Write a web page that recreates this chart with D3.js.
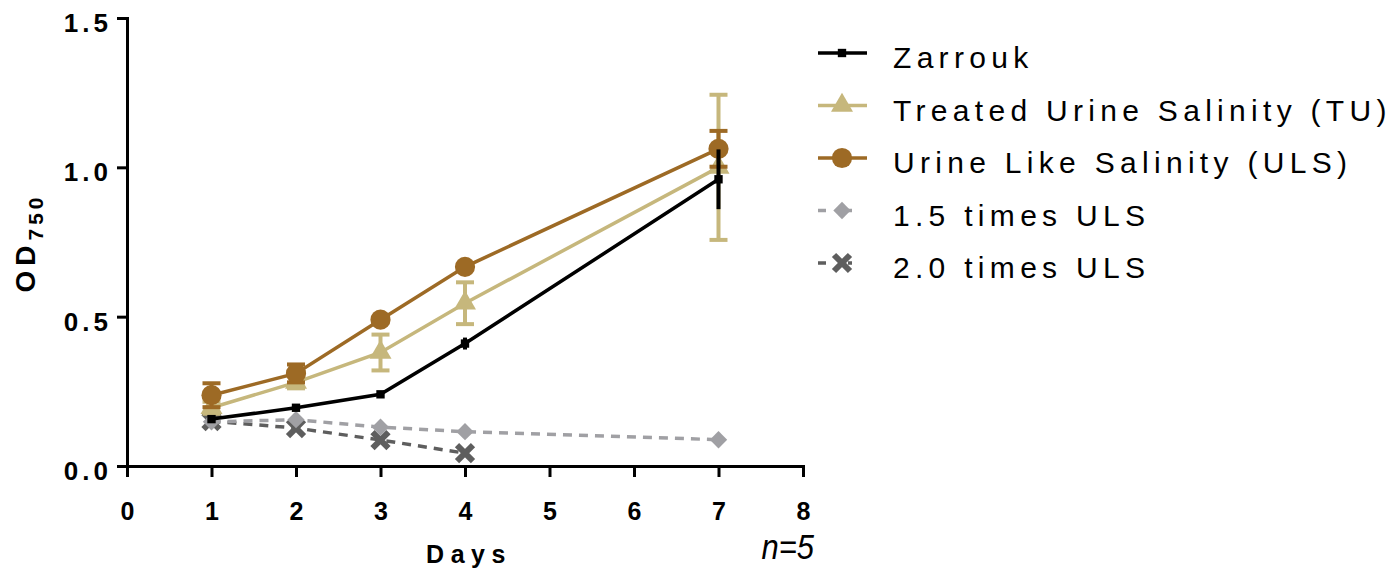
<!DOCTYPE html>
<html>
<head>
<meta charset="utf-8">
<script src="https://cdn.jsdelivr.net/npm/d3@7"></script>
<style>
  body { margin: 0; background: #fff; }
  svg { font-family: "Liberation Sans", Arial, sans-serif; }
</style>
</head>
<body>
<div id="chart"></div>
<script>
// Data
const days = [1, 2, 3, 4, 7];
const zarrouk = [0.157, 0.195, 0.24, 0.41, 0.96];
const zarroukErr = [0.01, 0.01, 0.01, 0.02, 0.1];
const treated = [0.195, 0.28, 0.38, 0.545, 1.0];
const treatedErr = [0.02, 0.02, 0.06, 0.07, 0.243];
const uls = [0.237, 0.31, 0.49, 0.667, 1.062];
const ulsErr = [0.04, 0.03, 0.01, 0.01, 0.06];
const uls15 = [0.148, 0.155, 0.13, 0.115, 0.088];
const uls20 = [0.15, 0.127, 0.087, 0.043];
const xTicks = [0, 1, 2, 3, 4, 5, 6, 7, 8];
const yTicks = [0.0, 0.5, 1.0, 1.5];

const W = 1396, H = 580;
const svg = d3.select("#chart").append("svg")
    .attr("width", W)
    .attr("height", H);

const x = d3.scaleLinear().domain([0, 8]).range([127, 803]);
const y = d3.scaleLinear().domain([0, 1.5]).range([466, 18]);

// Axes
const xAxis = svg.append("g")
    .attr("transform", `translate(0, ${y(0)})`)
    .call(d3.axisBottom(x).tickValues(xTicks).tickSize(11).tickPadding(25).tickFormat(d3.format("d")));
const yAxis = svg.append("g")
    .attr("transform", `translate(${x(0)}, 0)`)
    .call(d3.axisLeft(y).tickValues(yTicks).tickSize(10).tickPadding(5).tickFormat(d3.format(".1f")));

[xAxis, yAxis].forEach(g => {
    g.select(".domain").attr("stroke", "#000").attr("stroke-width", 3);
    g.selectAll(".tick line").attr("stroke", "#000").attr("stroke-width", 3);
    g.selectAll(".tick text")
        .attr("fill", "#000")
        .style("font-family", "'Liberation Sans', Arial, sans-serif")
        .style("font-size", "25px")
        .style("font-weight", "bold");
});
yAxis.selectAll(".tick text").style("font-size", "26px").style("letter-spacing", "4px").attr("dy", "0.52em");

// Axis titles
svg.append("text")
    .attr("x", 469).attr("y", 563)
    .attr("text-anchor", "middle")
    .style("font-size", "25px").style("font-weight", "bold").style("letter-spacing", "6.5px")
    .text("Days");

const yl = svg.append("text")
    .attr("transform", "translate(35, 243) rotate(-90)")
    .attr("text-anchor", "middle")
    .style("font-size", "28px").style("font-weight", "bold").style("letter-spacing", "5px");
yl.append("tspan").text("OD");
yl.append("tspan").attr("dy", 8).style("font-size", "21px").style("letter-spacing", "4px").text("750");

svg.append("text")
    .attr("transform", "translate(814, 559) scale(0.86, 1)")
    .attr("text-anchor", "end")
    .style("font-size", "36px").style("font-style", "italic")
    .text("n=5");

// Series definitions
const colors = {
    zarrouk: "#000000",
    treated: "#c6b77c",
    uls: "#9d6a25",
    uls15: "#a0a0a4",
    uls20: "#5e5e5e"
};

const series = [
    {name: "2.0 times ULS", vals: uls20, err: null, color: colors.uls20, dash: "9,7", marker: "x"},
    {name: "1.5 times ULS", vals: uls15, err: null, color: colors.uls15, dash: "9,7", marker: "diamond"},
    {name: "Treated Urine Salinity (TU)", vals: treated, err: treatedErr, color: colors.treated, dash: null, marker: "triangle"},
    {name: "Urine Like Salinity (ULS)", vals: uls, err: ulsErr, color: colors.uls, dash: null, marker: "circle"},
    {name: "Zarrouk", vals: zarrouk, err: zarroukErr, color: colors.zarrouk, dash: null, marker: "square"}
];

const symbolFor = m => ({
    square: d3.symbol(d3.symbolSquare, 70),
    triangle: d3.symbol(d3.symbolTriangle, 210),
    circle: d3.symbol(d3.symbolCircle, 320),
    diamond: d3.symbol(d3.symbolSquare, 150)
})[m];

function drawMarker(g, m, color, cx, cy) {
    if (m === "x") {
        const s = 8;
        g.append("path")
            .attr("d", `M${cx - s},${cy - s}L${cx + s},${cy + s}M${cx - s},${cy + s}L${cx + s},${cy - s}`)
            .attr("stroke", color).attr("stroke-width", 6).attr("fill", "none");
    } else {
        g.append("path")
            .attr("d", symbolFor(m)())
            .attr("transform", `translate(${cx},${cy})` + (m === "diamond" ? " rotate(45)" : ""))
            .attr("fill", color);
    }
}

const plot = svg.append("g");

series.forEach(s => {
    const pts = s.vals.map((v, i) => ({day: days[i], v: v, e: s.err ? s.err[i] : 0}));
    const line = d3.line().x(d => x(d.day)).y(d => y(d.v));
    plot.append("path")
        .datum(pts)
        .attr("fill", "none")
        .attr("stroke", s.color)
        .attr("stroke-width", 3.5)
        .attr("stroke-dasharray", s.dash)
        .attr("d", line);

    // error bars
    if (s.err) {
        pts.forEach(d => {
            if (d.e <= 0.012) return;
            const cx = x(d.day);
            const eg = plot.append("g").attr("stroke", s.color).attr("stroke-width", 4);
            eg.append("line").attr("x1", cx).attr("x2", cx).attr("y1", y(d.v - d.e)).attr("y2", y(d.v + d.e));
            if (s.marker !== "square") {
                [d.v - d.e, d.v + d.e].forEach(yy => {
                    eg.append("line").attr("x1", cx - 9).attr("x2", cx + 9).attr("y1", y(yy)).attr("y2", y(yy));
                });
            }
        });
    }

    pts.forEach(d => drawMarker(plot, s.marker, s.color, x(d.day), y(d.v)));
});

// Legend
const legendOrder = ["Zarrouk", "Treated Urine Salinity (TU)", "Urine Like Salinity (ULS)", "1.5 times ULS", "2.0 times ULS"];
const legend = svg.append("g");
legendOrder.forEach((name, i) => {
    const s = series.find(d => d.name === name);
    const ly = 53 + i * 52.5;
    legend.append("line")
        .attr("x1", 818).attr("x2", 867)
        .attr("y1", ly).attr("y2", ly)
        .attr("stroke", s.color).attr("stroke-width", 3.5)
        .attr("stroke-dasharray", s.dash ? "8,14,0,8,4,100" : null);
    drawMarker(legend, s.marker, s.color, 842, ly);
    legend.append("text")
        .attr("x", 893).attr("y", ly + 15)
        .style("font-size", "30px")
        .style("letter-spacing", "5.3px")
        .attr("fill", "#000")
        .text(name);
});
</script>
</body>
</html>
